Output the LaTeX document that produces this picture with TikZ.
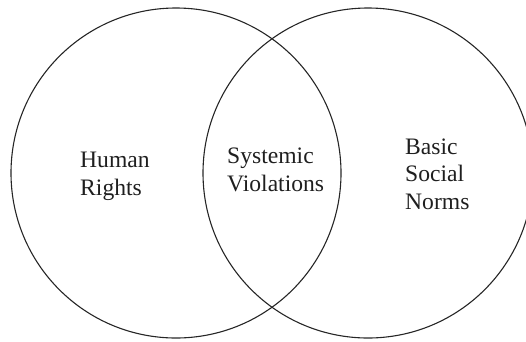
\documentclass[tikz,border=0pt]{standalone}
\usepackage{fontspec}
\setmainfont{Liberation Serif}
\usepackage{tikz}

\begin{document}
\begin{tikzpicture}[
  x=1pt, y=-1pt,
  every node/.style={font=\fontsize{23.6}{27.7}\selectfont, inner sep=0pt, text=black!88},
  venn/.style={circle, draw=black!85, line width=1.1pt, minimum size=330pt},
  words/.style={align=left, anchor=west}
]
  \clip (0,0) rectangle (526,341);
  \node[venn] (rights) at (176,173) {};
  \node[venn] (norms) at (368,173) {};
  \node[words] (human) at (80,176) {Human\\Rights};
  \node[words] (systemic) at (227,170) {Systemic\\Violations};
  \node[words] (basic) at (405,174) {Basic\\Social\\Norms};
\end{tikzpicture}
\end{document}
